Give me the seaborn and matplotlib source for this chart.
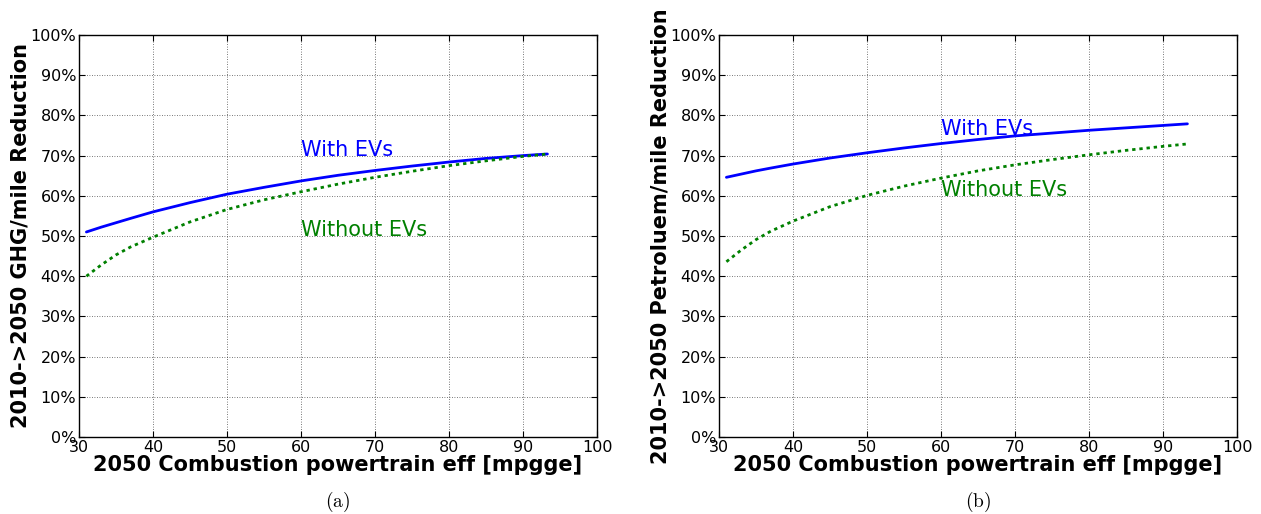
import numpy as np
import pandas as pd
import matplotlib
matplotlib.use("Agg")
import matplotlib.pyplot as plt
import seaborn as sns
from matplotlib.ticker import PercentFormatter, MultipleLocator

# 2050 combustion powertrain efficiency [mpgge]
mpgge = [31, 33, 35, 37, 40, 45, 50, 55, 60, 65, 70, 75, 80, 85, 90, 93.3]

# GHG/mile reduction 2010 -> 2050
ghg_with_evs = [51.0, 52.2, 53.3, 54.4, 56.0, 58.3, 60.4, 62.1, 63.7, 65.1, 66.3, 67.4, 68.4, 69.3, 70.0, 70.4]
ghg_without_evs = [40.0, 42.8, 45.3, 47.3, 49.7, 53.5, 56.6, 59.0, 61.0, 62.9, 64.6, 66.1, 67.5, 68.7, 69.8, 70.4]

# Petroleum/mile reduction 2010 -> 2050
pet_with_evs = [64.6, 65.4, 66.2, 66.9, 67.9, 69.4, 70.7, 71.9, 73.0, 74.0, 74.9, 75.6, 76.3, 76.9, 77.5, 77.9]
pet_without_evs = [43.6, 46.5, 49.1, 51.2, 53.7, 57.3, 60.1, 62.4, 64.4, 66.2, 67.7, 69.0, 70.2, 71.3, 72.3, 72.9]

panels = [
    ("2010->2050 GHG/mile Reduction", ghg_with_evs, ghg_without_evs, 70, 50, "(a)"),
    ("2010->2050 Petroluem/mile Reduction", pet_with_evs, pet_without_evs, 75, 60, "(b)"),
]

sns.set_style("ticks")
plt.rcParams["font.family"] = ["DejaVu Sans"]
plt.rcParams["mathtext.fontset"] = "cm"
plt.rcParams["text.color"] = "black"
plt.rcParams["axes.labelcolor"] = "black"

W, H = 1261, 514
fig = plt.figure(figsize=(W / 100, H / 100), dpi=100)
fig.patch.set_facecolor("white")

blue = "#0000ff"
green = "#008000"

lefts = [79, 719]
for left, (ylabel, with_ev, without_ev, y_with, y_without, cap) in zip(lefts, panels):
    ax = fig.add_axes([left / W, (H - 437) / H, 518 / W, 402 / H])
    df = pd.DataFrame({"mpgge": mpgge, "with": with_ev, "without": without_ev})
    sns.lineplot(data=df, x="mpgge", y="with", ax=ax, color=blue, lw=2.0)
    sns.lineplot(data=df, x="mpgge", y="without", ax=ax, color=green, lw=2.0,
                 linestyle=(0, (1.2, 1.4)))
    ax.set_xlim(30, 100)
    ax.set_ylim(0, 100)
    ax.xaxis.set_major_locator(MultipleLocator(10))
    ax.yaxis.set_major_locator(MultipleLocator(10))
    ax.yaxis.set_major_formatter(PercentFormatter(decimals=0))
    ax.grid(True, color="black", linestyle=(0, (1, 2)), linewidth=0.6, alpha=0.7)
    ax.tick_params(direction="in", top=True, right=True, length=4, width=0.8,
                   labelsize=11.5, pad=2, colors="black")
    for s in ax.spines.values():
        s.set_linewidth(1.0)
        s.set_color("black")
    ax.set_xlabel("2050 Combustion powertrain eff [mpgge]", fontsize=15,
                  fontweight="bold", labelpad=0, color="black")
    ax.set_ylabel(ylabel, fontsize=15, fontweight="bold", labelpad=0, color="black")
    ax.text(60, y_with, "With EVs", color=blue, fontsize=15, ha="left", va="baseline")
    ax.text(60, y_without, "Without EVs", color=green, fontsize=15, ha="left", va="baseline")
    fig.text((left + 259) / W, 1 - 502 / H, r"$\mathrm{" + cap + "}$", fontsize=14,
             ha="center", va="center", color="black")

fig.savefig("out.png", dpi=100, facecolor="white")
